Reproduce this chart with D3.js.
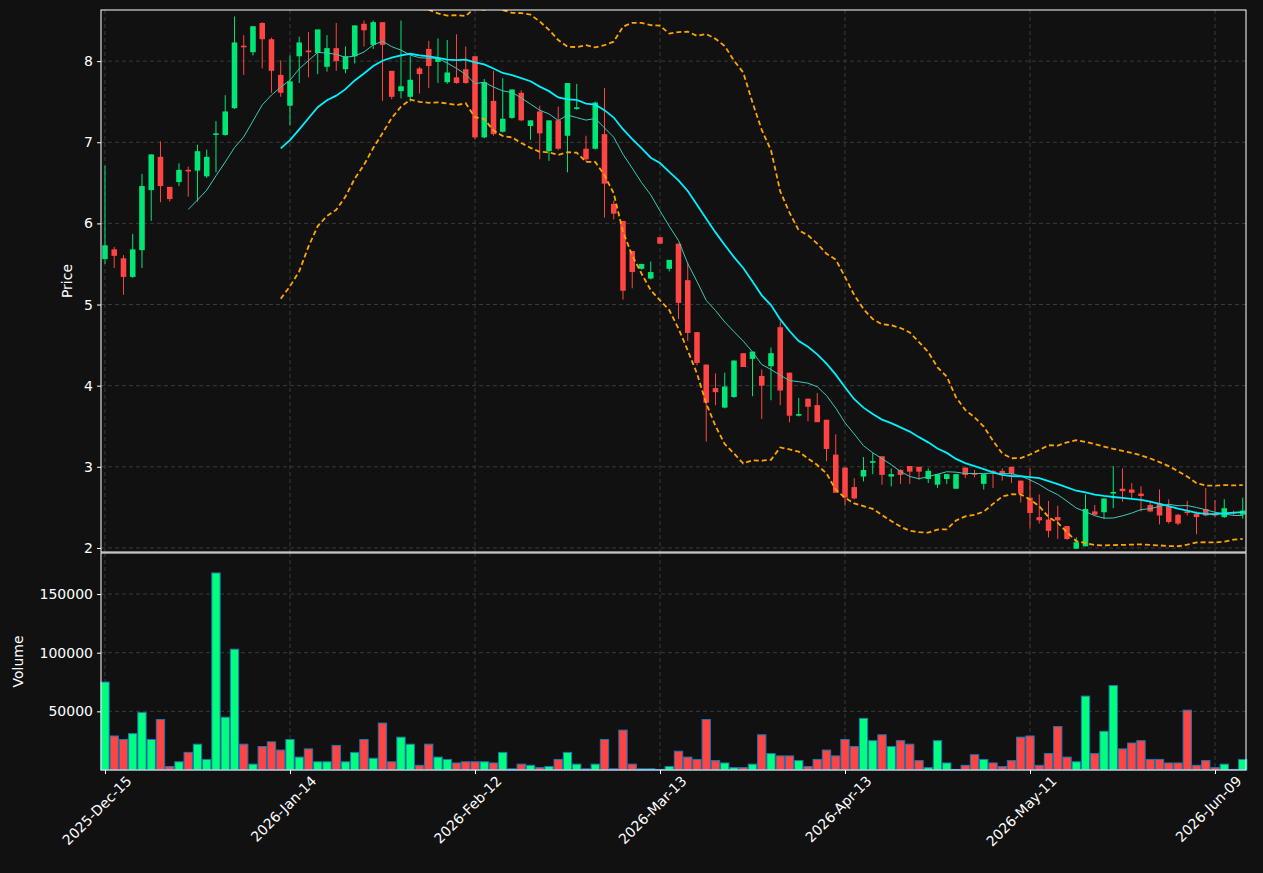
<!DOCTYPE html>
<html><head><meta charset="utf-8">
<script src="https://cdn.jsdelivr.net/npm/d3@7"></script>
<style>body{margin:0;background:#111111;}svg{display:block;font-family:"DejaVu Sans",sans-serif;}</style>
</head><body><svg id="c" width="1263" height="873"></svg>
<script>
const opens=[5.56,5.68,5.57,5.34,5.67,6.41,6.82,6.45,6.51,6.66,6.65,6.58,7.09,7.09,7.42,8.19,8.11,8.47,8.27,7.83,7.45,8.06,8.13,8.10,7.93,8.16,7.90,8.06,8.46,8.20,8.48,7.88,7.63,7.56,7.91,8.15,7.99,7.74,7.80,7.90,8.06,7.06,7.51,7.13,7.30,7.61,7.20,7.38,6.89,7.27,7.08,7.41,6.92,6.92,7.10,6.24,6.03,5.66,5.44,5.32,5.83,5.44,5.75,5.30,4.66,4.26,3.97,3.73,3.86,4.40,4.33,4.12,4.24,4.72,4.16,3.63,3.84,3.76,3.58,3.15,2.99,2.75,2.88,3.05,3.13,2.88,2.96,3.01,3.00,2.85,2.78,2.85,2.73,2.99,2.92,2.79,2.95,2.95,3.00,2.83,2.62,2.38,2.35,2.38,2.27,1.99,2.02,2.45,2.44,2.67,2.73,2.72,2.67,2.53,2.55,2.51,2.41,2.45,2.42,2.48,2.42,2.38,2.44,2.41];
const highs=[6.71,5.71,5.61,5.87,6.61,6.85,7.01,6.45,6.74,6.70,6.97,6.91,7.26,7.58,8.55,8.32,8.43,8.48,8.29,8.01,8.07,8.30,8.36,8.39,8.32,8.47,8.18,8.44,8.50,8.50,8.48,7.88,8.50,8.06,7.93,8.25,8.28,8.26,8.33,8.18,8.06,7.78,7.88,7.79,7.65,7.64,7.27,7.45,7.27,7.44,7.73,7.72,7.08,7.50,7.67,6.28,6.03,5.66,5.50,5.53,5.83,5.55,5.75,5.52,4.66,4.26,4.15,4.16,4.31,4.40,4.42,4.20,4.47,4.79,4.16,3.85,3.84,3.91,3.58,3.40,2.99,2.86,3.12,3.17,3.13,2.98,2.97,3.01,3.00,2.98,2.91,2.91,2.91,2.99,2.96,2.91,2.96,2.98,3.00,2.83,2.98,2.66,2.58,2.52,2.27,2.13,2.66,2.53,2.61,3.01,2.98,2.80,2.76,2.57,2.72,2.60,2.42,2.58,2.45,2.74,2.59,2.60,2.46,2.62];
const lows=[5.50,5.45,5.12,5.33,5.45,6.03,6.26,6.27,6.46,6.33,6.27,6.56,6.63,7.08,7.41,7.83,8.07,7.91,7.61,7.56,7.21,7.73,7.80,7.84,7.87,7.88,7.85,7.97,8.18,8.15,7.51,7.53,7.54,7.50,7.60,7.67,7.73,7.72,7.72,7.72,7.04,7.05,7.08,7.12,7.29,7.26,7.03,6.79,6.77,6.90,6.63,7.40,6.76,6.91,6.07,6.05,5.06,5.20,5.43,5.31,5.75,5.41,4.82,4.55,4.25,3.31,3.76,3.72,3.85,4.23,3.87,3.59,3.82,3.76,3.55,3.62,3.56,3.55,3.07,2.68,2.52,2.60,2.82,2.91,2.78,2.76,2.79,2.79,2.84,2.80,2.74,2.79,2.73,2.86,2.87,2.72,2.74,2.83,2.80,2.56,2.24,2.30,2.13,2.11,2.10,1.99,2.02,2.40,2.36,2.49,2.57,2.60,2.45,2.44,2.29,2.30,2.28,2.40,2.17,2.39,2.38,2.37,2.40,2.36];
const closes=[5.73,5.60,5.34,5.68,6.46,6.85,6.46,6.30,6.66,6.64,6.89,6.82,7.11,7.38,8.23,8.17,8.43,8.27,7.88,7.61,7.75,8.23,8.11,8.39,8.16,8.00,8.06,8.44,8.38,8.48,8.20,7.56,7.69,7.77,7.84,7.94,8.04,7.86,7.73,7.73,7.06,7.74,7.10,7.29,7.65,7.27,7.27,7.11,7.27,6.92,7.73,7.43,6.79,7.49,6.49,6.12,5.17,5.40,5.50,5.40,5.75,5.55,5.02,4.65,4.28,3.79,3.92,3.99,4.31,4.23,4.42,4.00,4.40,3.94,3.63,3.65,3.74,3.55,3.22,2.68,2.62,2.61,2.96,3.07,2.90,2.91,2.90,2.94,2.94,2.95,2.91,2.91,2.91,2.90,2.91,2.91,2.93,2.91,2.91,2.67,2.43,2.34,2.21,2.34,2.11,2.07,2.48,2.41,2.61,2.69,2.70,2.68,2.64,2.45,2.40,2.32,2.30,2.43,2.38,2.40,2.40,2.49,2.43,2.46];
const volumes=[75000,29000,26000,31000,49000,26000,43000,3000,7000,15000,22000,9000,168000,45000,103000,22000,5000,20000,24000,17000,26000,11000,18000,7000,7000,21000,7000,15000,26000,10000,40000,7000,28000,22000,4000,22000,11000,9000,6000,7000,7000,7000,6000,15000,1000,5000,4000,2000,3000,9000,15000,5000,1000,5000,26000,1000,34000,5000,1000,1000,500,3000,16000,11000,9000,43000,8000,6000,2000,2000,5000,30000,14000,12000,12000,8000,3000,9000,17000,12000,26000,20000,44000,25000,30000,20000,25000,22000,8000,2000,25000,6000,500,4000,13000,9000,6000,3000,8000,28000,29000,4000,14000,37000,11000,7000,63000,14000,33000,72000,18000,23000,25000,9000,9000,6000,6000,51000,4000,8000,2000,5000,500,9000];
const tickIdx=[0,20,40,60,80,100,120];
const tickLabels=["2025-Dec-15","2026-Jan-14","2026-Feb-12","2026-Mar-13","2026-Apr-13","2026-May-11","2026-Jun-09"];
const priceTicks=[2,3,4,5,6,7,8];
const volTicks=[50000,100000,150000];

const svg=d3.select("#c");
const L=101,R=1246,PT=10,PB=552,VT=553,VB=770;
const n=closes.length;
const x=d3.scaleLinear().domain([-0.43,123.35]).range([L,R]);
const y=d3.scaleLinear().domain([1.95,8.63]).range([PB,PT]);
const yv=d3.scaleLinear().domain([0,185000]).range([VB,VT]);
const step=x(1)-x(0);
const UP="#00e676",DN="#ff4444",VUP="#00ff7f";
svg.append("rect").attr("width",1263).attr("height",873).attr("fill","#111111");
const grid="#3a3a3a";
const gP=svg.append("g");
priceTicks.forEach(t=>gP.append("line").attr("x1",L).attr("x2",R).attr("y1",y(t)).attr("y2",y(t)).attr("stroke",grid).attr("stroke-dasharray","4,3"));
volTicks.forEach(t=>gP.append("line").attr("x1",L).attr("x2",R).attr("y1",yv(t)).attr("y2",yv(t)).attr("stroke",grid).attr("stroke-dasharray","4,3"));
tickIdx.forEach(i=>{
  gP.append("line").attr("x1",x(i)).attr("x2",x(i)).attr("y1",PT).attr("y2",PB).attr("stroke",grid).attr("stroke-dasharray","4,3");
  gP.append("line").attr("x1",x(i)).attr("x2",x(i)).attr("y1",VT).attr("y2",VB).attr("stroke",grid).attr("stroke-dasharray","4,3");
});
svg.append("clipPath").attr("id","cp").append("rect").attr("x",L).attr("y",PT).attr("width",R-L).attr("height",PB-PT);
const pg=svg.append("g").attr("clip-path","url(#cp)");
const idx=d3.range(n);
idx.forEach(i=>{
  const up=closes[i]>=opens[i], col=up?UP:DN;
  pg.append("line").attr("x1",x(i)).attr("x2",x(i)).attr("y1",y(highs[i])).attr("y2",y(lows[i])).attr("stroke",col).attr("stroke-width",1);
  const top=y(Math.max(opens[i],closes[i])),bot=y(Math.min(opens[i],closes[i]));
  pg.append("rect").attr("x",x(i)-step*0.3).attr("width",step*0.6).attr("y",top).attr("height",Math.max(1.5,bot-top)).attr("fill",col);
});
function sma(k){return idx.map(i=>i<k-1?null:d3.mean(closes.slice(i-k+1,i+1)));}
function sd(k){return idx.map(i=>i<k-1?null:d3.deviation(closes.slice(i-k+1,i+1))*Math.sqrt((k-1)/k));}
const ma10=sma(10),ma20=sma(20),s20=sd(20);
const line=arr=>d3.line().defined(i=>arr[i]!=null).x(i=>x(i)).y(i=>y(arr[i]))(idx);
const bbU=idx.map(i=>ma20[i]==null?null:ma20[i]+2*s20[i]);
const bbL=idx.map(i=>ma20[i]==null?null:ma20[i]-2*s20[i]);
pg.append("path").attr("d",line(bbU)).attr("fill","none").attr("stroke","#ffa500").attr("stroke-width",1.8).attr("stroke-dasharray","5,3");
pg.append("path").attr("d",line(bbL)).attr("fill","none").attr("stroke","#ffa500").attr("stroke-width",1.8).attr("stroke-dasharray","5,3");
pg.append("path").attr("d",line(ma10)).attr("fill","none").attr("stroke","#40c8b8").attr("stroke-width",1);
pg.append("path").attr("d",line(ma20)).attr("fill","none").attr("stroke","#00f0ff").attr("stroke-width",1.8);
idx.forEach(i=>{
  const up=closes[i]>=opens[i];
  svg.append("rect").attr("x",x(i)-step*0.45).attr("width",step*0.9).attr("y",yv(volumes[i])).attr("height",VB-yv(volumes[i])).attr("fill",up?VUP:DN).attr("stroke","#1f77b4").attr("stroke-width",1);
});
svg.append("rect").attr("x",L).attr("y",PT).attr("width",R-L).attr("height",PB-PT).attr("fill","none").attr("stroke","#ffffff").attr("stroke-width",1);
svg.append("rect").attr("x",L).attr("y",VT).attr("width",R-L).attr("height",VB-VT).attr("fill","none").attr("stroke","#ffffff").attr("stroke-width",1);
const ay=svg.append("g").attr("transform",`translate(${L},0)`).call(d3.axisLeft(y).tickValues(priceTicks).tickSize(4).tickPadding(4).tickFormat(d3.format("d")));
const av=svg.append("g").attr("transform",`translate(${L},0)`).call(d3.axisLeft(yv).tickValues(volTicks).tickSize(4).tickPadding(4).tickFormat(d3.format("d")));
const ax=svg.append("g").attr("transform",`translate(0,${VB})`).call(d3.axisBottom(x).tickValues(tickIdx).tickSize(4).tickFormat((d,i)=>tickLabels[i]));
[ay,av,ax].forEach(g=>{g.select(".domain").remove();g.selectAll("line").attr("stroke","#ffffff");g.selectAll("text").attr("fill","#ffffff").style("font-size","14px").style("font-family","DejaVu Sans");});
ax.selectAll("text").attr("text-anchor","end").attr("dx","0").attr("dy","0").attr("transform","translate(22,7) rotate(-45)");
svg.append("text").attr("transform",`translate(72,${(PT+PB)/2}) rotate(-90)`).attr("text-anchor","middle").attr("fill","#fff").style("font-size","14px").text("Price");
svg.append("text").attr("transform",`translate(23,${(VT+VB)/2}) rotate(-90)`).attr("text-anchor","middle").attr("fill","#fff").style("font-size","14px").text("Volume");
</script></body></html>
